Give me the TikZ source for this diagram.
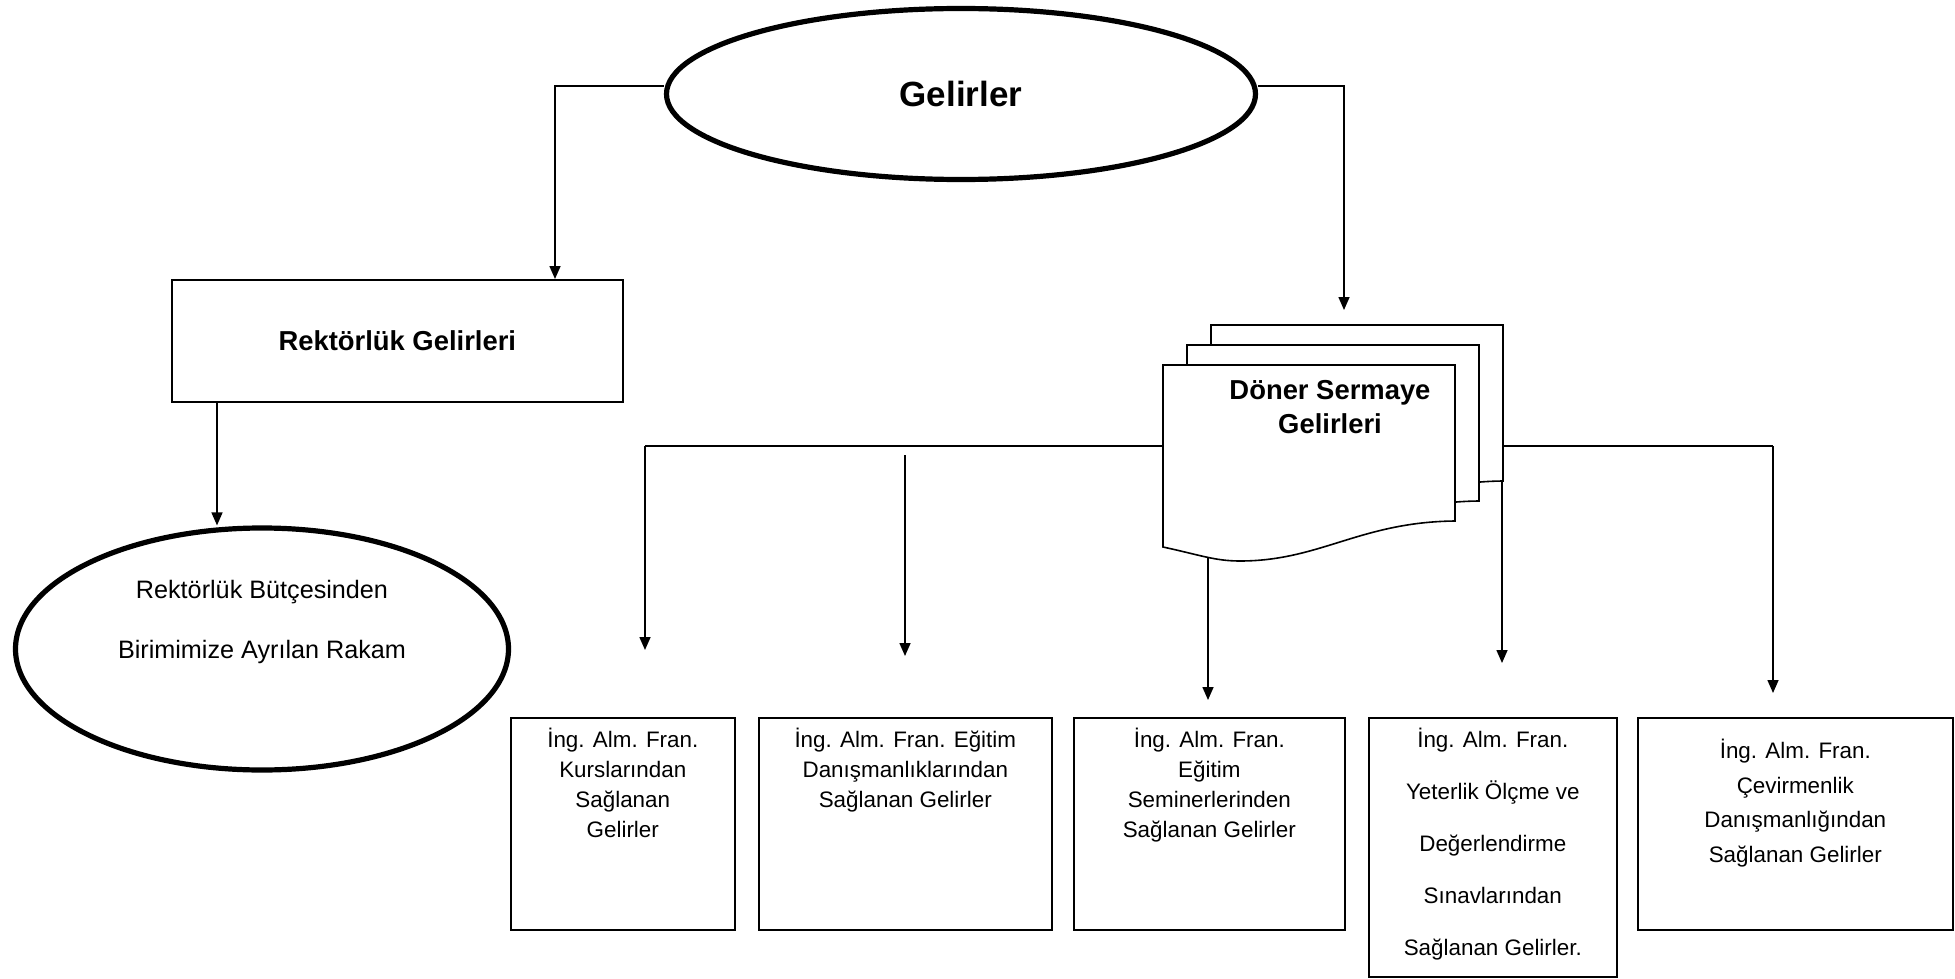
\documentclass[tikz,border=0pt]{standalone}
\usepackage{fontspec}
\setmainfont{Liberation Sans}
\usetikzlibrary{shapes.geometric,arrows.meta}

\tikzset{
  ok/.style={line width=0.8pt,-{Triangle[width=5.5pt,length=6.5pt]}},
  cizgi/.style={line width=0.8pt},
  kutu/.style={draw,line width=0.8pt,inner sep=0pt,anchor=north west},
  elips/.style={draw,ellipse,line width=2.6pt,inner sep=0pt},
  sayfa/.style={draw,fill=white,line width=0.8pt}
}
\newcommand{\yazi}[5]{\parbox[t][#2][t]{#1}{\centering\fontsize{11.2pt}{#4}\selectfont\rule{0pt}{#3}#5\par}}

\begin{document}
\begin{tikzpicture}[x=0.5pt,y=-0.5pt]
\useasboundingbox (0,0) rectangle (1955,979);

% ust kisim
\node[elips,minimum width=294.5pt,minimum height=85.5pt,font=\fontsize{17.5pt}{21pt}\selectfont\bfseries] (gelir) at (961,94) {Gelirler};
\node[kutu,minimum width=225.5pt,minimum height=61pt,font=\fontsize{13.7pt}{17pt}\selectfont\bfseries] (rekt) at (171,279) {Rektörlük Gelirleri};
\node[elips,minimum width=246.5pt,minimum height=121pt,align=center,font=\fontsize{12.6pt}{30pt}\selectfont] (butce) at (262,649) {Rektörlük Bütçesinden\\Birimimize Ayrılan Rakam\\\mbox{}};

\coordinate (sol) at (555,86);
\coordinate (sag) at (1344,86);
\coordinate (sagu) at (1344,310);
\coordinate (r1) at (217,0);
\draw[ok] ([yshift=4pt]gelir.west) -- (sol) -- (sol |- rekt.north);
\draw[ok] ([yshift=4pt]gelir.east) -- (sag) -- (sagu);
\draw[ok] (rekt.south -| r1) -- (butce.north -| r1);

% dagitim cizgileri
\coordinate (d1) at (645,446);
\coordinate (dsol) at (1163,446);
\coordinate (dsag) at (1502,446);
\coordinate (d5) at (1773,446);
\draw[cizgi] (d1) -- (dsol);
\draw[cizgi] (dsag) -- (d5);
\foreach \x/\a/\b [count=\i] in {645/446/650, 905/455/656, 1208/556/700, 1502/446/663, 1773/446/693}{
  \coordinate (u\i) at (\x,\a);
  \coordinate (a\i) at (\x,\b);
  \draw[ok] (u\i) -- (a\i);
}

% doner sermaye sayfalari
\foreach \d in {2,1,0}{
  \draw[sayfa,shift={(24*\d,-20*\d)}] (1163,365) -- (1455,365) -- (1455,521)
    .. controls (1360,522) and (1320,561) .. (1240,561)
    .. controls (1215,561) and (1200,555) .. (1163,547) -- cycle;
}
\node[align=center,font=\fontsize{13.7pt}{17pt}\selectfont\bfseries] (doner) at (1330,407) {Döner Sermaye\\Gelirleri};

% alt kutular
\node[kutu] (k1) at (510,717) {\yazi{112pt}{106pt}{15pt}{15pt}{İng. Alm. Fran.\\Kurslarından\\Sağlanan\\Gelirler}};
\node[kutu] (k2) at (758,717) {\yazi{146.5pt}{106pt}{15pt}{15pt}{İng. Alm. Fran. Eğitim\\Danışmanlıklarından\\Sağlanan Gelirler}};
\node[kutu] (k3) at (1073,717) {\yazi{135.5pt}{106pt}{15pt}{15pt}{İng. Alm. Fran.\\Eğitim\\Seminerlerinden\\Sağlanan Gelirler}};
\node[kutu] (k4) at (1368,717) {\yazi{124pt}{129.5pt}{15pt}{26pt}{İng. Alm. Fran.\\Yeterlik Ölçme ve\\Değerlendirme\\Sınavlarından\\Sağlanan Gelirler.}};
\node[kutu] (k5) at (1637,717) {\yazi{157.5pt}{106pt}{20.5pt}{17.25pt}{İng. Alm. Fran.\\Çevirmenlik\\Danışmanlığından\\Sağlanan Gelirler}};
\end{tikzpicture}
\end{document}
